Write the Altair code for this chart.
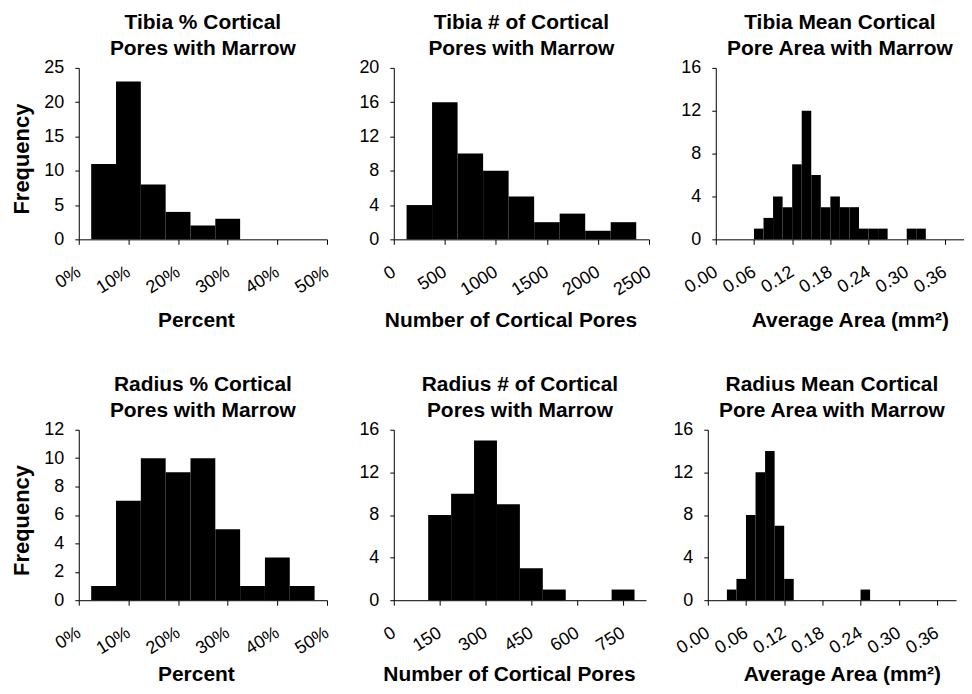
import altair as alt
import pandas as pd

FONT = "Liberation Sans"

# ---- data (bin lower edge, upper edge, frequency) ----
tib_pct_lo = [0.025, 0.075, 0.125, 0.175, 0.225, 0.275]
tib_pct_hi = [0.075, 0.125, 0.175, 0.225, 0.275, 0.325]
tib_pct_n = [11, 23, 8, 4, 2, 3]

tib_num_lo = [125, 375, 625, 875, 1125, 1375, 1625, 1875, 2125]
tib_num_hi = [375, 625, 875, 1125, 1375, 1625, 1875, 2125, 2375]
tib_num_n = [4, 16, 10, 8, 5, 2, 3, 1, 2]

tib_area_lo = [0.060, 0.075, 0.090, 0.105, 0.120, 0.135, 0.150, 0.165, 0.180,
               0.195, 0.210, 0.225, 0.240, 0.255, 0.270, 0.285, 0.300, 0.315]
tib_area_hi = [0.075, 0.090, 0.105, 0.120, 0.135, 0.150, 0.165, 0.180, 0.195,
               0.210, 0.225, 0.240, 0.255, 0.270, 0.285, 0.300, 0.315, 0.330]
tib_area_n = [1, 2, 4, 3, 7, 12, 6, 3, 4, 3, 3, 1, 1, 1, 0, 0, 1, 1]

rad_pct_lo = [0.025, 0.075, 0.125, 0.175, 0.225, 0.275, 0.325, 0.375, 0.425]
rad_pct_hi = [0.075, 0.125, 0.175, 0.225, 0.275, 0.325, 0.375, 0.425, 0.475]
rad_pct_n = [1, 7, 10, 9, 10, 5, 1, 3, 1]

rad_num_lo = [112.5, 187.5, 262.5, 337.5, 412.5, 487.5, 562.5, 637.5, 712.5]
rad_num_hi = [187.5, 262.5, 337.5, 412.5, 487.5, 562.5, 637.5, 712.5, 787.5]
rad_num_n = [8, 10, 15, 9, 3, 1, 0, 0, 1]

rad_area_lo = [0.030, 0.045, 0.060, 0.075, 0.090, 0.105, 0.120, 0.135, 0.150,
               0.165, 0.180, 0.195, 0.210, 0.225, 0.240]
rad_area_hi = [0.045, 0.060, 0.075, 0.090, 0.105, 0.120, 0.135, 0.150, 0.165,
               0.180, 0.195, 0.210, 0.225, 0.240, 0.255]
rad_area_n = [1, 2, 8, 12, 14, 7, 2, 0, 0, 0, 0, 0, 0, 0, 1]

pct_ticks = [0, 0.1, 0.2, 0.3, 0.4, 0.5]
tib_num_ticks = [0, 500, 1000, 1500, 2000, 2500]
rad_num_ticks = [0, 150, 300, 450, 600, 750]
area_ticks = [0, 0.06, 0.12, 0.18, 0.24, 0.30, 0.36]

freq_title = "Frequency"
pct_title = "Percent"
num_title = "Number of Cortical Pores"
area_title = "Average Area (mm²)"


def panel(lo, hi, n, xmax, xticks, xfmt, yticks, title, xtitle, ytitle,
          w, h, title_dx, title_y):
    df = pd.DataFrame({"lo": lo, "hi": hi, "n": n})
    xaxis = alt.Axis(
        values=xticks, format=xfmt, labelAngle=-32, labelAlign="right",
        labelBaseline="middle", labelPadding=26, tickSize=5,
        labelFlush=False, labelOverlap=False, grid=False,
        labelFontSize=18, labelColor="black",
        domainColor="black", tickColor="black",
        title=xtitle, titleX=w / 2 + title_dx, titleY=title_y,
        titleBaseline="middle", titleFontSize=21, titleFontWeight="bold",
        titleColor="black",
    )
    ykw = dict(
        values=yticks, format="d", tickSize=4, labelPadding=11,
        labelFlush=False, grid=False, labelFontSize=18, labelColor="black",
        domainColor="black", tickColor="black", minExtent=40,
    )
    if ytitle:
        yaxis = alt.Axis(title=ytitle, titleX=-57, titleY=h / 2 + 5,
                         titleFontSize=22, titleFontWeight="bold",
                         titleColor="black", titleBaseline="middle", **ykw)
    else:
        yaxis = alt.Axis(title=None, **ykw)
    return (
        alt.Chart(df)
        .mark_bar(color="black")
        .encode(
            x=alt.X("lo:Q", scale=alt.Scale(domain=[0, xmax], nice=False, zero=False), axis=xaxis),
            x2="hi:Q",
            y=alt.Y("n:Q", scale=alt.Scale(domain=[yticks[0], yticks[-1]], nice=False), axis=yaxis),
            y2=alt.datum(0),
        )
        .properties(
            width=w, height=h,
            title=alt.TitleParams(title, fontSize=21, fontWeight="bold", color="black",
                                  anchor="middle", frame="group", lineHeight=26, offset=0),
        )
    )


p1 = panel(tib_pct_lo, tib_pct_hi, tib_pct_n, 0.5, pct_ticks, "%", [0, 5, 10, 15, 20, 25],
           ["Tibia % Cortical", "Pores with Marrow"], pct_title, freq_title, 249, 172, -7, 81)
p2 = panel(tib_num_lo, tib_num_hi, tib_num_n, 2500, tib_num_ticks, "d", [0, 4, 8, 12, 16, 20],
           ["Tibia # of Cortical", "Pores with Marrow"], num_title, None, 256, 172, -11, 81)
p3 = panel(tib_area_lo, tib_area_hi, tib_area_n, 0.39, area_ticks, ".2f", [0, 4, 8, 12, 16],
           ["Tibia Mean Cortical", "Pore Area with Marrow"], area_title, None, 249, 172, 10, 81)
p4 = panel(rad_pct_lo, rad_pct_hi, rad_pct_n, 0.5, pct_ticks, "%", [0, 2, 4, 6, 8, 10, 12],
           ["Radius % Cortical", "Pores with Marrow"], pct_title, freq_title, 249, 171, -7, 75)
p5 = panel(rad_num_lo, rad_num_hi, rad_num_n, 825, rad_num_ticks, "d", [0, 4, 8, 12, 16],
           ["Radius # of Cortical", "Pores with Marrow"], num_title, None, 253, 171, -11, 75)
p6 = panel(rad_area_lo, rad_area_hi, rad_area_n, 0.39, area_ticks, ".2f", [0, 4, 8, 12, 16],
           ["Radius Mean Cortical", "Pore Area with Marrow"], area_title, None, 249, 171, 10, 75)

top = alt.hconcat(p1, p2, p3, spacing=22)
bottom = alt.hconcat(p4, p5, p6, spacing=22)

chart = (
    alt.vconcat(top, bottom, spacing=44)
    .configure(font=FONT, padding={"left": 3, "top": 3, "right": 0, "bottom": 0})
    .configure_view(strokeWidth=0)
)

chart.save("out.html", embed_options={"renderer": "svg", "actions": False})
